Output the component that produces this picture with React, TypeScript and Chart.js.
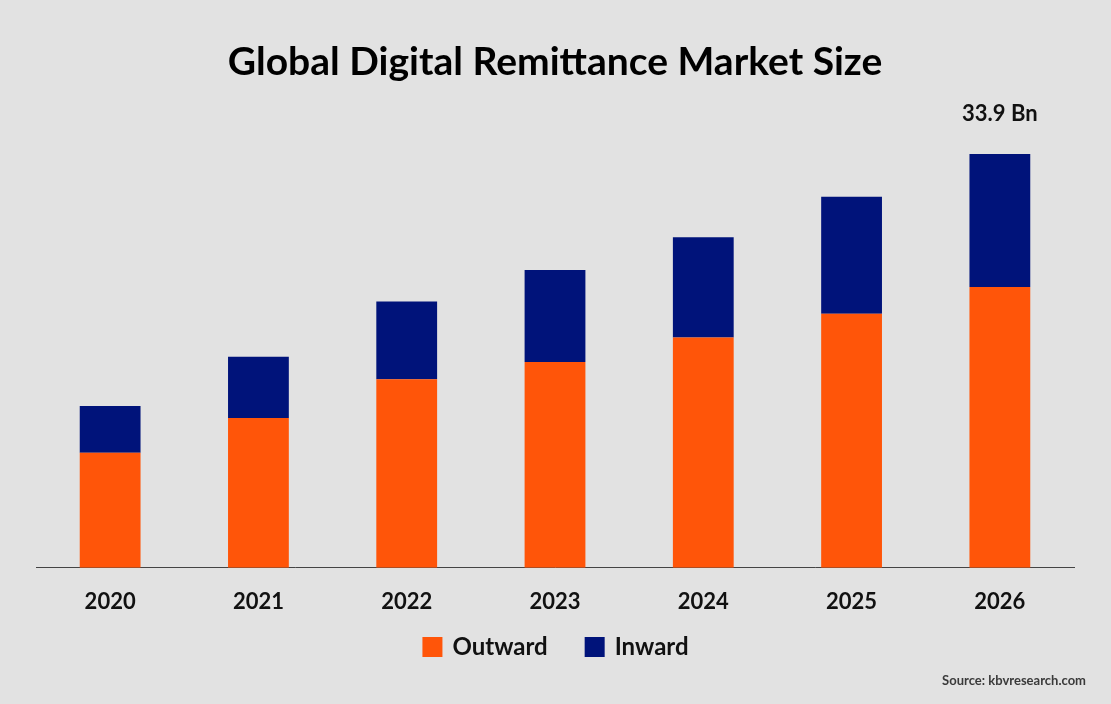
import React, { useEffect, useRef } from "react";
import { Chart, registerables } from "chart.js";

Chart.register(...registerables);

const years = ["2020", "2021", "2022", "2023", "2024", "2025", "2026"];
const outward = [9.41, 12.26, 15.45, 16.85, 18.87, 20.81, 23.0];
const inward = [3.85, 5.02, 6.37, 7.54, 8.22, 9.59, 10.9];
const seriesNames = ["Outward", "Inward"];
const seriesColors = ["#FF5509", "#00137A"];
const titleText = "Global Digital Remittance Market Size";
const sourceText = "Source: kbvresearch.com";
const unitSuffix = " Bn";

const BG = "#E2E2E2";
const FONT = "Lato, 'Open Sans', sans-serif";

export default function App() {
  const ref = useRef<HTMLCanvasElement | null>(null);

  useEffect(() => {
    document.body.style.margin = "0";
    document.body.style.background = BG;
    const canvas = ref.current;
    if (!canvas) return;

    const bgPlugin = {
      id: "bg",
      beforeDraw(chart: any) {
        const ctx = chart.ctx;
        ctx.save();
        ctx.fillStyle = BG;
        ctx.fillRect(0, 0, chart.width, chart.height);
        ctx.restore();
      },
    };

    const extrasPlugin = {
      id: "extras",
      afterDraw(chart: any) {
        const ctx = chart.ctx;
        ctx.save();
        // value label on last bar
        const lastIdx = years.length - 1;
        const topMeta = chart.getDatasetMeta(1);
        const bar = topMeta.data[lastIdx];
        const total = outward[lastIdx] + inward[lastIdx];
        ctx.fillStyle = "#111";
        ctx.font = `bold 22px ${FONT}`;
        ctx.textAlign = "center";
        ctx.textBaseline = "middle";
        ctx.fillText(total.toFixed(1) + unitSuffix, bar.x, bar.y - 40);

        // legend
        const legendY = 647;
        const box = 20;
        const gapBoxText = 10;
        const gapItems = 37;
        ctx.font = `bold 24px ${FONT}`;
        const widths = seriesNames.map((n) => ctx.measureText(n).width);
        let totalW = 0;
        widths.forEach((w, i) => {
          totalW += box + gapBoxText + w + (i < widths.length - 1 ? gapItems : 0);
        });
        let x = chart.width / 2 - totalW / 2;
        seriesNames.forEach((n, i) => {
          ctx.fillStyle = seriesColors[i];
          ctx.fillRect(x, legendY - box / 2, box, box);
          ctx.fillStyle = "#111";
          ctx.textAlign = "left";
          ctx.fillText(n, x + box + gapBoxText, legendY);
          x += box + gapBoxText + widths[i] + gapItems;
        });

        // source
        ctx.font = `bold 13px ${FONT}`;
        ctx.fillStyle = "#3A3A3A";
        ctx.textAlign = "right";
        ctx.fillText(sourceText, 1086, 681);
        ctx.restore();
      },
    };

    const chart = new Chart(canvas, {
      type: "bar",
      data: {
        labels: years,
        datasets: [
          {
            label: seriesNames[0],
            data: outward,
            backgroundColor: seriesColors[0],
            barPercentage: 0.41,
            categoryPercentage: 1,
          },
          {
            label: seriesNames[1],
            data: inward,
            backgroundColor: seriesColors[1],
            barPercentage: 0.41,
            categoryPercentage: 1,
          },
        ],
      },
      options: {
        responsive: false,
        animation: false,
        layout: { padding: { left: 36, right: 37, top: 0, bottom: 75.3 } },
        plugins: {
          legend: { display: false },
          tooltip: { enabled: false },
          title: {
            display: true,
            text: titleText,
            color: "#000",
            font: { family: FONT, size: 39, weight: "bold", lineHeight: 1.2 },
            padding: { top: 39.4, bottom: 17.8 },
          },
        },
        scales: {
          x: {
            stacked: true,
            grid: { display: false },
            border: { display: true, color: "#444", width: 1 },
            ticks: {
              color: "#111",
              font: { family: FONT, size: 22, weight: "bold", lineHeight: 1.2 },
              padding: 13.3,
            },
          },
          y: {
            stacked: true,
            display: false,
            min: 0,
            max: 38,
          },
        },
      },
      plugins: [bgPlugin, extrasPlugin],
    });

    return () => chart.destroy();
  }, []);

  return (
    <div style={{ position: "absolute", left: 0, top: 0, width: 1111, height: 704 }}>
      <canvas ref={ref} width={1111} height={704} style={{ width: 1111, height: 704 }} />
    </div>
  );
}
